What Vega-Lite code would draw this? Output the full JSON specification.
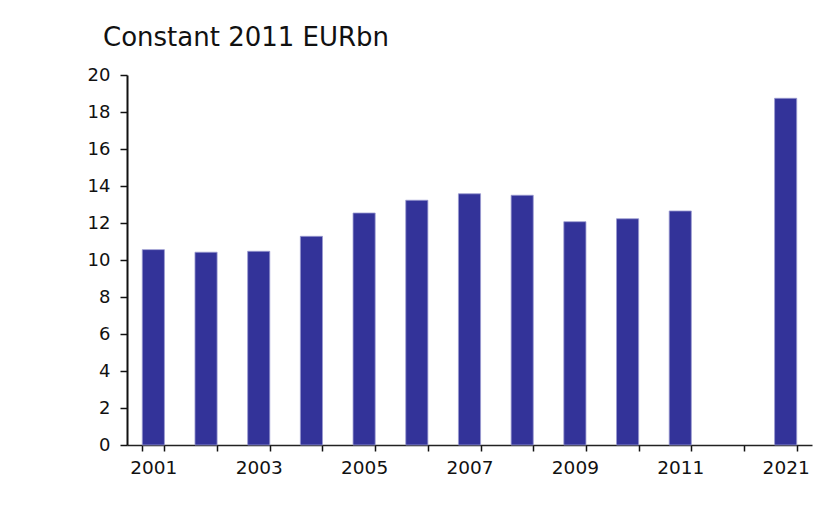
{
  "$schema": "https://vega.github.io/schema/vega-lite/v6.json",
  "autosize": "none",
  "width": 685,
  "height": 370,
  "padding": {"left": 127, "top": 75, "right": 19, "bottom": 75},
  "background": "white",
  "title": {
    "text": "Constant 2011 EURbn",
    "anchor": "start",
    "frame": "group",
    "dx": -24,
    "offset": 15,
    "font": "DejaVu Sans",
    "fontSize": 26,
    "fontWeight": "normal",
    "color": "#111111"
  },
  "data": {
    "values": [
      {"year": "2001", "value": 10.56},
      {"year": "2002", "value": 10.42},
      {"year": "2003", "value": 10.47},
      {"year": "2004", "value": 11.28},
      {"year": "2005", "value": 12.54},
      {"year": "2006", "value": 13.23},
      {"year": "2007", "value": 13.58},
      {"year": "2008", "value": 13.5},
      {"year": "2009", "value": 12.07},
      {"year": "2010", "value": 12.23},
      {"year": "2011", "value": 12.65},
      {"year": "2021", "value": 18.74}
    ]
  },
  "mark": {"type": "bar", "color": "#333399", "stroke": "#9a9ad0", "strokeWidth": 0.8},
  "encoding": {
    "x": {
      "field": "year",
      "type": "ordinal",
      "scale": {
        "domain": ["2001", "2002", "2003", "2004", "2005", "2006", "2007", "2008", "2009", "2010", "2011", "gap", "2021"],
        "paddingInner": 0.58,
        "paddingOuter": 0.29
      },
      "axis": {
        "title": null,
        "labelAngle": 0,
        "tickBand": "extent",
        "labelExpr": "indexof(['2001','2003','2005','2007','2009','2011','2021'], datum.label) >= 0 ? datum.label : ''",
        "labelFont": "DejaVu Sans",
        "labelFontSize": 18.5,
        "labelColor": "#111111",
        "labelPadding": 7,
        "tickSize": 6,
        "tickColor": "#111111",
        "tickWidth": 1.5,
        "domainColor": "#222222",
        "domainWidth": 1.5
      }
    },
    "y": {
      "field": "value",
      "type": "quantitative",
      "scale": {"domain": [0, 20], "nice": false},
      "axis": {
        "title": null,
        "values": [0, 2, 4, 6, 8, 10, 12, 14, 16, 18, 20],
        "grid": false,
        "labelFont": "DejaVu Sans",
        "labelFontSize": 18,
        "labelColor": "#111111",
        "labelPadding": 10,
        "tickSize": 7,
        "tickColor": "#111111",
        "tickWidth": 1.5,
        "domainColor": "#111111",
        "domainWidth": 2
      }
    }
  },
  "config": {"view": {"stroke": null}}
}
